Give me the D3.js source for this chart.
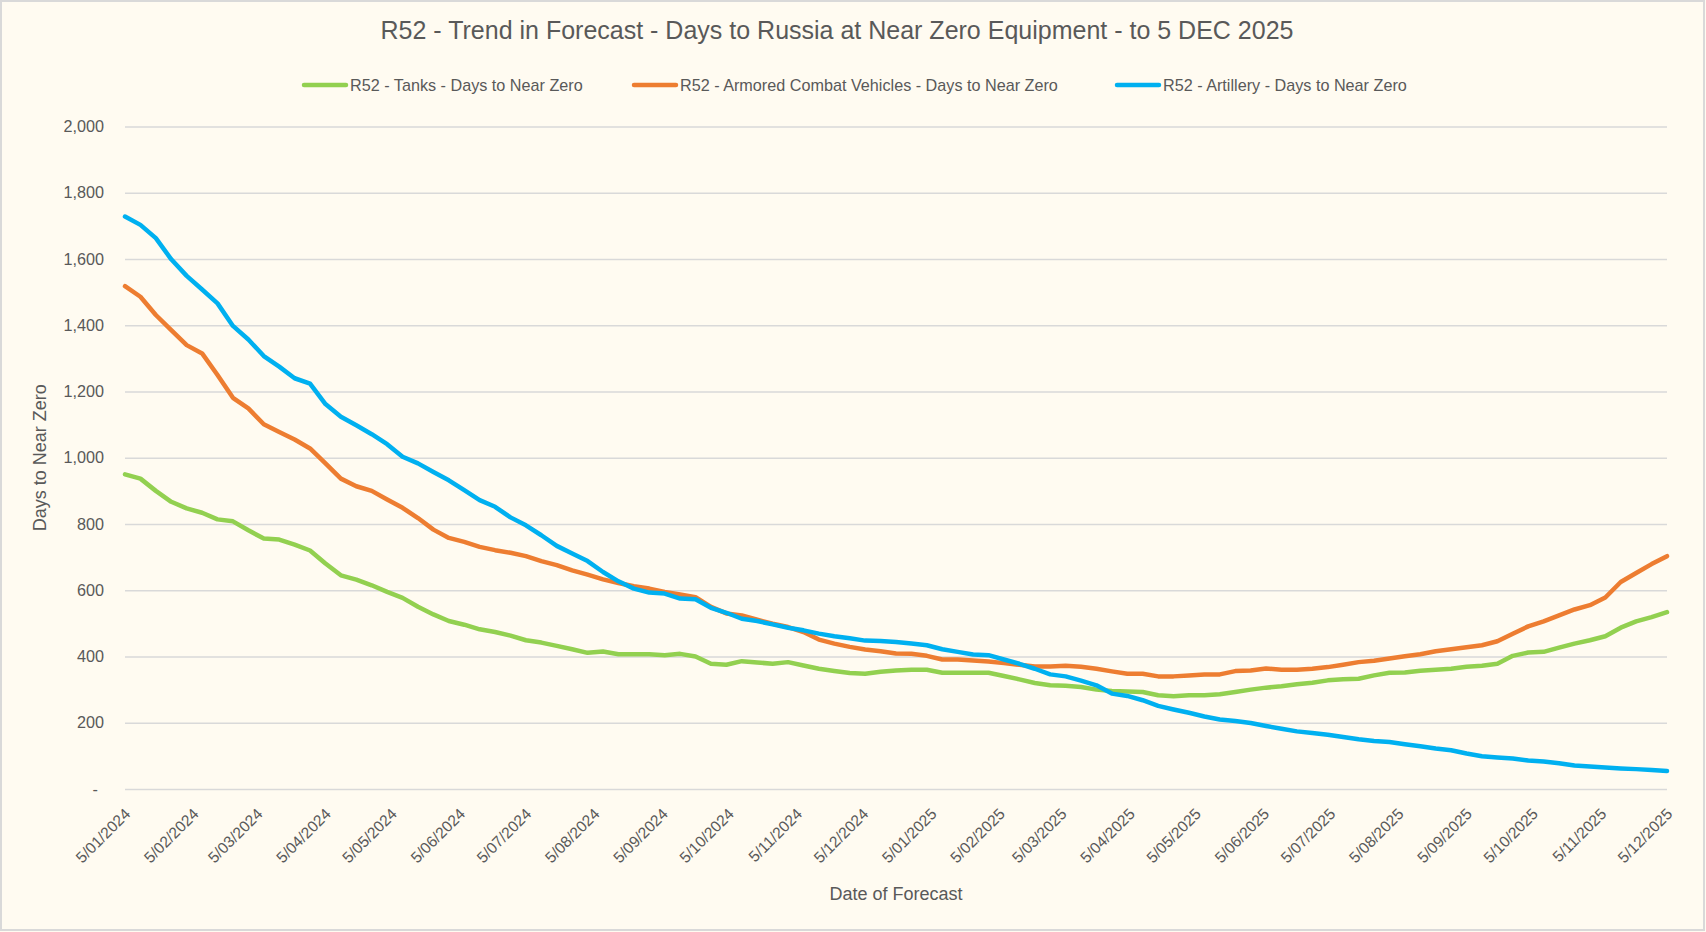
<!DOCTYPE html>
<html>
<head>
<meta charset="utf-8">
<script src="https://cdn.jsdelivr.net/npm/d3@7/dist/d3.min.js"></script>
<style>
  html, body { margin: 0; padding: 0; background: #fffbf1; }
  svg { display: block; font-family: "Liberation Sans", Arial, sans-serif; }
</style>
</head>
<body>
<div class="chart"></div>
<script>
// weekly forecasts, first one on 5 Jan 2024, last one on 5 Dec 2025
var firstForecast = "2024-01-05";

var tanks = [950, 937, 900, 867, 847, 834, 814, 808, 781, 756, 753, 738, 720, 681, 645, 632, 615, 595, 577, 550,
    527, 507, 496, 482, 474, 463, 449, 442, 432, 422, 411, 415, 407, 407, 407, 404, 408, 400, 378, 375,
    386, 382, 378, 383, 373, 363, 356, 350, 348, 354, 358, 360, 360, 351, 351, 351, 351, 341, 331, 320,
    313, 312, 308, 300, 296, 294, 293, 283, 280, 283, 283, 286, 293, 300, 306, 310, 316, 321, 328, 331,
    333, 343, 351, 352, 357, 360, 363, 369, 372, 378, 402, 412, 414, 427, 439, 449, 461, 487, 506, 519, 534];

var acv = [1518, 1486, 1431, 1385, 1340, 1315, 1250, 1181, 1149, 1101, 1078, 1055, 1028, 983, 937, 914, 900, 874, 849, 818,
    783, 758, 746, 731, 721, 713, 703, 688, 676, 660, 647, 633, 622, 612, 605, 595, 587, 579, 550, 530,
    524, 511, 499, 489, 474, 451, 439, 429, 421, 416, 409, 408, 402, 391, 391, 388, 385, 380, 375, 370,
    370, 372, 369, 363, 355, 348, 348, 340, 340, 343, 346, 346, 356, 358, 364, 360, 360, 363, 368, 375,
    383, 387, 394, 401, 407, 416, 422, 428, 434, 446, 469, 491, 506, 524, 542, 555, 578, 625, 652, 679, 703];

var artillery = [1728, 1703, 1663, 1599, 1549, 1508, 1466, 1398, 1357, 1307, 1275, 1240, 1224, 1162, 1124, 1098, 1071, 1041, 1003, 983,
    957, 932, 902, 872, 852, 820, 796, 766, 734, 711, 688, 655, 627, 605, 593, 590, 575, 573, 547, 532,
    514, 507, 497, 487, 479, 469, 461, 455, 448, 447, 444, 439, 434, 422, 414, 406, 404, 391, 378, 363,
    346, 340, 327, 313, 288, 281, 268, 251, 240, 230, 219, 210, 205, 199, 190, 182, 174, 169, 164, 157,
    150, 145, 142, 135, 129, 122, 117, 107, 99, 95, 92, 86, 83, 78, 71, 68, 65, 62, 60, 57, 54];

var seriesNames = ["R52 - Tanks - Days to Near Zero",
    "R52 - Armored Combat Vehicles - Days to Near Zero",
    "R52 - Artillery - Days to Near Zero"];
var seriesColors = ["#92d050", "#ed7d31", "#00b0f0"];

var xTickDates = ["2024-01-05", "2024-02-05", "2024-03-05", "2024-04-05", "2024-05-05", "2024-06-05",
    "2024-07-05", "2024-08-05", "2024-09-05", "2024-10-05", "2024-11-05", "2024-12-05",
    "2025-01-05", "2025-02-05", "2025-03-05", "2025-04-05", "2025-05-05", "2025-06-05",
    "2025-07-05", "2025-08-05", "2025-09-05", "2025-10-05", "2025-11-05", "2025-12-05"];
var yTicks = [0, 200, 400, 600, 800, 1000, 1200, 1400, 1600, 1800, 2000];

var width = 1706;
var height = 932;
var margin = { top: 126.5, right: 39, bottom: 143, left: 125 };
var textColor = "#595959";

var parseDate = d3.timeParse("%Y-%m-%d");
var start = parseDate(firstForecast);
var weeks = d3.range(tanks.length).map(function (i) { return d3.timeDay.offset(start, 7 * i); });
var ticks = xTickDates.map(parseDate);

var x = d3.scaleTime()
    .domain([ticks[0], ticks[ticks.length - 1]])
    .range([margin.left, width - margin.right]);
var y = d3.scaleLinear()
    .domain([0, 2000])
    .range([height - margin.bottom, margin.top]);

var svg = d3.select(".chart")
    .append("svg")
    .attr("width", width)
    .attr("height", height);

// background + border
svg.append("rect")
    .attr("x", 1).attr("y", 1)
    .attr("width", width - 3).attr("height", height - 3)
    .attr("fill", "#fffbf1")
    .attr("stroke", "#d9d9d9")
    .attr("stroke-width", 2);

// title
svg.append("text")
    .attr("x", 837).attr("y", 39)
    .attr("text-anchor", "middle")
    .attr("font-size", "25px")
    .attr("fill", textColor)
    .text("R52 - Trend in Forecast - Days to Russia at Near Zero Equipment - to 5 DEC 2025");

// y axis with gridlines
var yAxis = svg.append("g")
    .attr("transform", "translate(" + margin.left + ",0)")
    .call(d3.axisLeft(y)
        .tickValues(yTicks)
        .tickSize(-(width - margin.left - margin.right))
        .tickPadding(21)
        .tickFormat(function (d) { return d === 0 ? "-" : d3.format(",")(d); }));
yAxis.select(".domain").remove();
yAxis.selectAll(".tick line")
    .attr("stroke", "#d9d9d9")
    .attr("stroke-width", 1.5);
yAxis.selectAll(".tick text")
    .attr("font-size", "16.2px")
    .attr("fill", textColor)
    .attr("font-family", "Liberation Sans, Arial, sans-serif");
yAxis.selectAll(".tick text")
    .filter(function (d) { return d === 0; })
    .attr("x", -27);

// x axis
var xAxis = svg.append("g")
    .attr("transform", "translate(0," + (height - margin.bottom) + ")")
    .call(d3.axisBottom(x)
        .tickValues(ticks)
        .tickSize(0)
        .tickFormat(d3.timeFormat("%-d/%m/%Y")));
xAxis.select(".domain").remove();
xAxis.selectAll(".tick text")
    .attr("font-size", "15.6px")
    .attr("fill", textColor)
    .attr("font-family", "Liberation Sans, Arial, sans-serif")
    .attr("text-anchor", "end")
    .attr("x", 0).attr("y", 0)
    .attr("dy", "0.35em")
    .attr("transform", "translate(2,22) rotate(-45)");

// axis titles
svg.append("text")
    .attr("x", (margin.left + width - margin.right) / 2)
    .attr("y", 900)
    .attr("text-anchor", "middle")
    .attr("font-size", "18px")
    .attr("fill", textColor)
    .text("Date of Forecast");

svg.append("text")
    .attr("transform", "translate(46," + ((margin.top + height - margin.bottom) / 2) + ") rotate(-90)")
    .attr("text-anchor", "middle")
    .attr("font-size", "18px")
    .attr("fill", textColor)
    .text("Days to Near Zero");

// lines
var line = d3.line()
    .x(function (d, i) { return x(weeks[i]); })
    .y(function (d) { return y(d); });

[tanks, acv, artillery].forEach(function (values, k) {
    svg.append("path")
        .datum(values)
        .attr("d", line)
        .attr("fill", "none")
        .attr("stroke", seriesColors[k])
        .attr("stroke-width", 4.5)
        .attr("stroke-linejoin", "round")
        .attr("stroke-linecap", "round");
});

// legend
var legendX = [304, 634, 1117];
var legend = svg.selectAll(".legend")
    .data(seriesNames)
    .enter()
    .append("g")
    .attr("class", "legend")
    .attr("transform", function (d, i) { return "translate(" + legendX[i] + ",85)"; });

legend.append("line")
    .attr("x1", 0).attr("x2", 42)
    .attr("y1", 0).attr("y2", 0)
    .attr("stroke", function (d, i) { return seriesColors[i]; })
    .attr("stroke-width", 4.5)
    .attr("stroke-linecap", "round");

legend.append("text")
    .attr("x", 46)
    .attr("dy", "0.35em")
    .attr("font-size", "16.2px")
    .attr("fill", textColor)
    .text(function (d) { return d; });
</script>
</body>
</html>
